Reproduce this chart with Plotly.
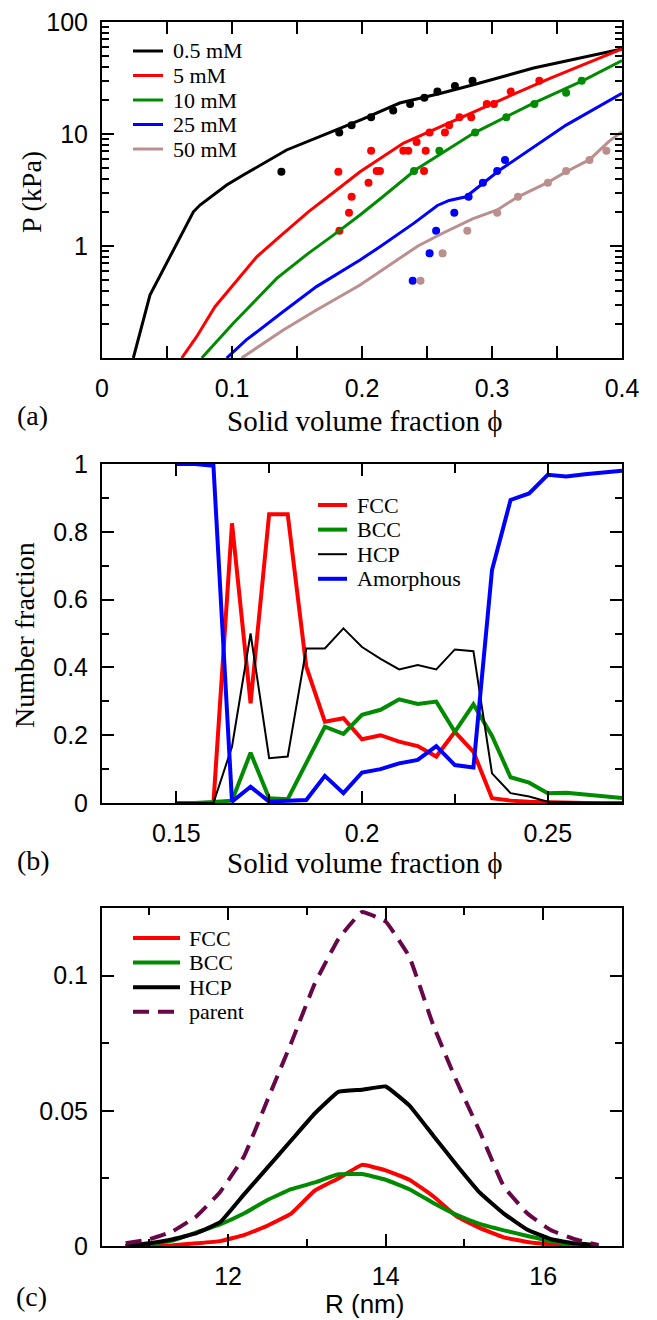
import plotly.graph_objects as go

W, H = 657, 1320
SERIF = "Liberation Serif"
SANS = "Liberation Sans"

# ---------------- panel (a): pressure vs solid volume fraction ----------------
salt_names = ["0.5 mM", "5 mM", "10 mM", "25 mM", "50 mM"]
salt_colors = ["#000000", "#ff0000", "#008b00", "#0000ff", "#bc8f8f"]

# simulation curves
sim_phi_05 = [0.0241, 0.0369, 0.0703, 0.0754, 0.0959, 0.1087, 0.142, 0.16, 0.175, 0.2, 0.229,
              0.26, 0.285, 0.332, 0.37, 0.4]
sim_p_05 = [0.1, 0.365, 2.02, 2.32, 3.5, 4.3, 7.2, 8.8, 10.3, 13.5, 18.9,
            23.0, 27.4, 38.8, 48.0, 57.5]

sim_phi_5 = [0.0613, 0.0728, 0.0869, 0.106, 0.119, 0.138, 0.1587, 0.1805, 0.1985, 0.232,
             0.268, 0.306, 0.345, 0.4]
sim_p_5 = [0.1, 0.155, 0.287, 0.53, 0.8, 1.25, 2.02, 3.16, 4.6, 8.3,
           12.8, 20.0, 31.6, 57.5]

sim_phi_10 = [0.0767, 0.101, 0.1344, 0.1587, 0.178, 0.1985, 0.216, 0.241, 0.286, 0.332, 0.37, 0.4]
sim_p_10 = [0.1, 0.204, 0.514, 0.86, 1.25, 1.89, 2.75, 4.77, 10.2, 18.9, 30.0, 45.2]

sim_phi_25 = [0.0959, 0.111, 0.1395, 0.165, 0.1985, 0.213, 0.24, 0.258, 0.267, 0.28, 0.306,
              0.332, 0.357, 0.4]
sim_p_25 = [0.1, 0.145, 0.26, 0.434, 0.75, 0.97, 1.6, 2.3, 2.55, 2.75, 4.77,
            7.7, 12.0, 23.1]

sim_phi_50 = [0.1074, 0.1395, 0.165, 0.1985, 0.243, 0.262, 0.285, 0.304, 0.32, 0.343, 0.357,
              0.375, 0.39, 0.4]
sim_p_50 = [0.1, 0.178, 0.268, 0.449, 1.0, 1.3, 1.75, 2.1, 2.75, 3.7, 4.6,
            5.9, 8.6, 10.5]

# measured points
exp_phi_05 = [0.138, 0.1825, 0.192, 0.207, 0.224, 0.237, 0.248, 0.258, 0.2715, 0.285]
exp_p_05 = [4.6, 10.3, 12.0, 14.1, 16.2, 18.5, 21.1, 23.9, 26.8, 29.9]

exp_phi_5 = [0.1818, 0.1826, 0.190, 0.192, 0.205, 0.207, 0.2113, 0.2138, 0.2318, 0.2356, 0.242,
             0.2477, 0.249, 0.252, 0.2638, 0.267, 0.275, 0.284, 0.296, 0.3015, 0.3144, 0.3364]
exp_p_5 = [4.6, 1.37, 1.98, 2.75, 3.67, 7.1, 4.68, 4.68, 7.1, 7.1, 8.5,
           4.68, 7.1, 10.3, 10.3, 12.0, 14.1, 14.1, 18.5, 18.5, 23.9, 29.9]

exp_phi_10 = [0.240, 0.2595, 0.287, 0.311, 0.3326, 0.357, 0.369]
exp_p_10 = [4.68, 7.1, 10.3, 14.1, 18.5, 23.4, 29.9]

exp_phi_25 = [0.239, 0.252, 0.257, 0.271, 0.282, 0.293, 0.304, 0.310]
exp_p_25 = [0.49, 0.86, 1.37, 1.98, 2.75, 3.67, 4.68, 5.87]

exp_phi_50 = [0.245, 0.262, 0.281, 0.304, 0.320, 0.343, 0.357, 0.375, 0.388]
exp_p_50 = [0.49, 0.86, 1.37, 1.98, 2.75, 3.67, 4.68, 5.87, 7.1]

sim_sets = [(sim_phi_05, sim_p_05), (sim_phi_5, sim_p_5), (sim_phi_10, sim_p_10),
            (sim_phi_25, sim_p_25), (sim_phi_50, sim_p_50)]
exp_sets = [(exp_phi_05, exp_p_05), (exp_phi_5, exp_p_5), (exp_phi_10, exp_p_10),
            (exp_phi_25, exp_p_25), (exp_phi_50, exp_p_50)]

# ---------------- panel (b): crystal number fractions ----------------
phi_b = [0.15, 0.155, 0.16, 0.165, 0.17, 0.175, 0.18, 0.185, 0.19, 0.195, 0.2, 0.205, 0.21,
         0.215, 0.22, 0.225, 0.23, 0.235, 0.24, 0.245, 0.25, 0.255, 0.26, 0.265, 0.27]
frac_fcc = [0, 0, 0, 0.825, 0.294, 0.852, 0.852, 0.402, 0.24, 0.25, 0.188, 0.2, 0.181,
            0.168, 0.137, 0.21, 0.151, 0.014, 0.007, 0.004, 0.002, 0, 0, 0, 0]
frac_bcc = [0, 0, 0.003, 0.007, 0.148, 0.014, 0.011, 0.117, 0.225, 0.204, 0.26, 0.275, 0.306,
            0.292, 0.299, 0.21, 0.291, 0.198, 0.076, 0.06, 0.029, 0.03, 0.025, 0.02, 0.015]
frac_hcp = [0, 0, 0, 0.166, 0.5, 0.132, 0.137, 0.456, 0.456, 0.515, 0.46, 0.425, 0.394,
            0.407, 0.394, 0.453, 0.448, 0.0875, 0.029, 0.019, 0.004, 0.002, 0, 0, 0]
frac_amorph = [1, 1, 0.995, 0.004, 0.048, 0.004, 0.007, 0.009, 0.08, 0.029, 0.09, 0.1, 0.117,
               0.127, 0.168, 0.112, 0.105, 0.687, 0.894, 0.913, 0.968, 0.963, 0.97, 0.975, 0.98]
phase_names = ["FCC", "BCC", "HCP", "Amorphous"]
phase_colors = ["#ff0000", "#008b00", "#000000", "#0000ff"]
phase_widths = [4, 4, 2, 4]
phase_fracs = [frac_fcc, frac_bcc, frac_hcp, frac_amorph]

# ---------------- panel (c): size distributions ----------------
radius_nm = [10.7, 11.0, 11.3, 11.6, 11.9, 12.2, 12.5, 12.8, 13.1, 13.4, 13.7,
             14.0, 14.3, 14.6, 14.9, 15.2, 15.5, 15.8, 16.1, 16.4, 16.7]
dist_fcc = [0, 0, 0.0003, 0.001, 0.0018, 0.004, 0.0075, 0.012, 0.0205, 0.025, 0.030,
            0.028, 0.0245, 0.0185, 0.011, 0.0066, 0.0032, 0.0015, 0.0006, 0.0002, 0]
dist_bcc = [0, 0.0008, 0.002, 0.005, 0.008, 0.012, 0.017, 0.021, 0.0235, 0.0265, 0.0266,
            0.0245, 0.021, 0.016, 0.0115, 0.0081, 0.0058, 0.0037, 0.0018, 0.0005, 0.0001]
dist_hcp = [0, 0.001, 0.0025, 0.0048, 0.0088, 0.019, 0.029, 0.039, 0.049, 0.057, 0.0578,
            0.059, 0.052, 0.041, 0.030, 0.0196, 0.012, 0.006, 0.0025, 0.001, 0.0003]
dist_parent = [0.001, 0.0025, 0.0055, 0.011, 0.02, 0.033, 0.054, 0.075, 0.097, 0.1135, 0.1235,
               0.12, 0.107, 0.082, 0.061, 0.042, 0.022, 0.012, 0.0058, 0.0025, 0.0004]
dist_names = ["FCC", "BCC", "HCP", "parent"]
dist_colors = ["#ff0000", "#008b00", "#000000", "#670748"]
dist_dashes = ["solid", "solid", "solid", "16px,9px"]
dist_sets = [dist_fcc, dist_bcc, dist_hcp, dist_parent]


def fx(px):
    return px / W


def fy(py):
    return 1 - py / H


fig = go.Figure()

for name, color, (sx, sy), (ex, ey) in zip(salt_names, salt_colors, sim_sets, exp_sets):
    fig.add_trace(go.Scatter(x=sx, y=sy, mode="lines", name=name,
                             line=dict(color=color, width=3), xaxis="x", yaxis="y",
                             showlegend=False))
    fig.add_trace(go.Scatter(x=ex, y=ey, mode="markers", name=name,
                             marker=dict(color=color, size=8), xaxis="x", yaxis="y",
                             showlegend=False))

for name, color, width, vals in zip(phase_names, phase_colors, phase_widths, phase_fracs):
    fig.add_trace(go.Scatter(x=phi_b, y=vals, mode="lines", name=name,
                             line=dict(color=color, width=width), xaxis="x2", yaxis="y2",
                             showlegend=False))

for name, color, dash, vals in zip(dist_names, dist_colors, dist_dashes, dist_sets):
    fig.add_trace(go.Scatter(x=radius_nm, y=vals, mode="lines", name=name,
                             line=dict(color=color, width=4, dash=dash, shape="spline",
                                       smoothing=0.3),
                             xaxis="x3", yaxis="y3", showlegend=False))

tickfont = dict(family=SANS, size=25, color="black")


def axis(**kw):
    base = dict(showline=True, linecolor="black", linewidth=2, mirror="ticks",
                ticks="inside", tickwidth=2, tickcolor="black", ticklen=12,
                showgrid=False, zeroline=False, tickfont=tickfont,
                ticklabelstandoff=7, automargin=False)
    base.update(kw)
    return base


def minor(vals, length):
    return dict(tickmode="array", tickvals=vals, ticks="inside", ticklen=length,
                tickwidth=2, tickcolor="black", showgrid=False)


xdom = [fx(102), fx(622)]

fig.update_layout(
    width=W, height=H,
    margin=dict(l=0, r=0, t=0, b=0),
    paper_bgcolor="white", plot_bgcolor="white",
    showlegend=False,
    xaxis=axis(domain=xdom, anchor="y", range=[0, 0.4],
               tickmode="array", tickvals=[0, 0.1, 0.2, 0.3, 0.4],
               ticktext=["0", "0.1", "0.2", "0.3", "0.4"],
               minor=minor([0.05, 0.15, 0.25, 0.35], 12)),
    yaxis=axis(domain=[fy(358), fy(22)], anchor="x", type="log", range=[-1, 2],
               tickmode="array", tickvals=[1, 10, 100], ticktext=["1", "10", "100"],
               minor=minor([m * d for d in (0.1, 1, 10) for m in range(2, 10)], 7)),
    xaxis2=axis(domain=xdom, anchor="y2", range=[0.13, 0.27],
                tickmode="array", tickvals=[0.15, 0.2, 0.25],
                ticktext=["0.15", "0.2", "0.25"],
                minor=minor([0.175, 0.225], 9)),
    yaxis2=axis(domain=[fy(803), fy(464)], anchor="x2", range=[0, 1],
                tickmode="array", tickvals=[0, 0.2, 0.4, 0.6, 0.8, 1],
                ticktext=["0", "0.2", "0.4", "0.6", "0.8", "1"],
                minor=minor([0.1, 0.3, 0.5, 0.7, 0.9], 7)),
    xaxis3=axis(domain=xdom, anchor="y3", range=[10.4, 17.0],
                tickmode="array", tickvals=[12, 14, 16], ticktext=["12", "14", "16"],
                minor=minor([11, 13, 15], 7)),
    yaxis3=axis(domain=[fy(1246), fy(908)], anchor="x3", range=[0, 0.125],
                tickmode="array", tickvals=[0, 0.05, 0.1], ticktext=["0", "0.05", "0.1"],
                minor=minor([0.025, 0.075], 7)),
)

annotations = []
shapes = []


def label(text, x, y, size, family=SERIF, angle=0, xanchor="center"):
    annotations.append(dict(text=text, x=fx(x), y=fy(y), xref="paper", yref="paper",
                            showarrow=False, xanchor=xanchor, yanchor="middle",
                            textangle=angle, font=dict(family=family, size=size, color="black")))


# axis titles and panel letters
label("P (kPa)", 31, 192, 28, angle=-90)
label("Solid volume fraction \u03d5", 364, 421, 29)
label("(a)", 32, 415, 28)
label("Number fraction", 24, 635, 28, angle=-90)
label("Solid volume fraction \u03d5", 364, 863, 29)
label("(b)", 33, 860, 28)
label("R (nm)", 364, 1304, 26, family=SANS)
label("(c)", 31, 1296, 28)


def legend(names, colors, widths, dashes, x0, x1, xt, y0, pitch):
    for i, (n, c, w, d) in enumerate(zip(names, colors, widths, dashes)):
        yy = y0 + i * pitch
        shapes.append(dict(type="line", xref="paper", yref="paper",
                           x0=fx(x0), x1=fx(x1), y0=fy(yy), y1=fy(yy),
                           line=dict(color=c, width=w, dash=d)))
        label(n, xt, yy, 22, xanchor="left")


legend(salt_names, salt_colors, [3] * 5, ["solid"] * 5, 133, 163, 171, 51, 24.5)
legend(phase_names, phase_colors, phase_widths, ["solid"] * 4, 318, 347, 355, 505, 24.6)
legend(dist_names, dist_colors, [4] * 4, dist_dashes, 133, 180, 187, 938, 24.6)

fig.update_layout(annotations=annotations, shapes=shapes)

fig.write_html("out.html")
